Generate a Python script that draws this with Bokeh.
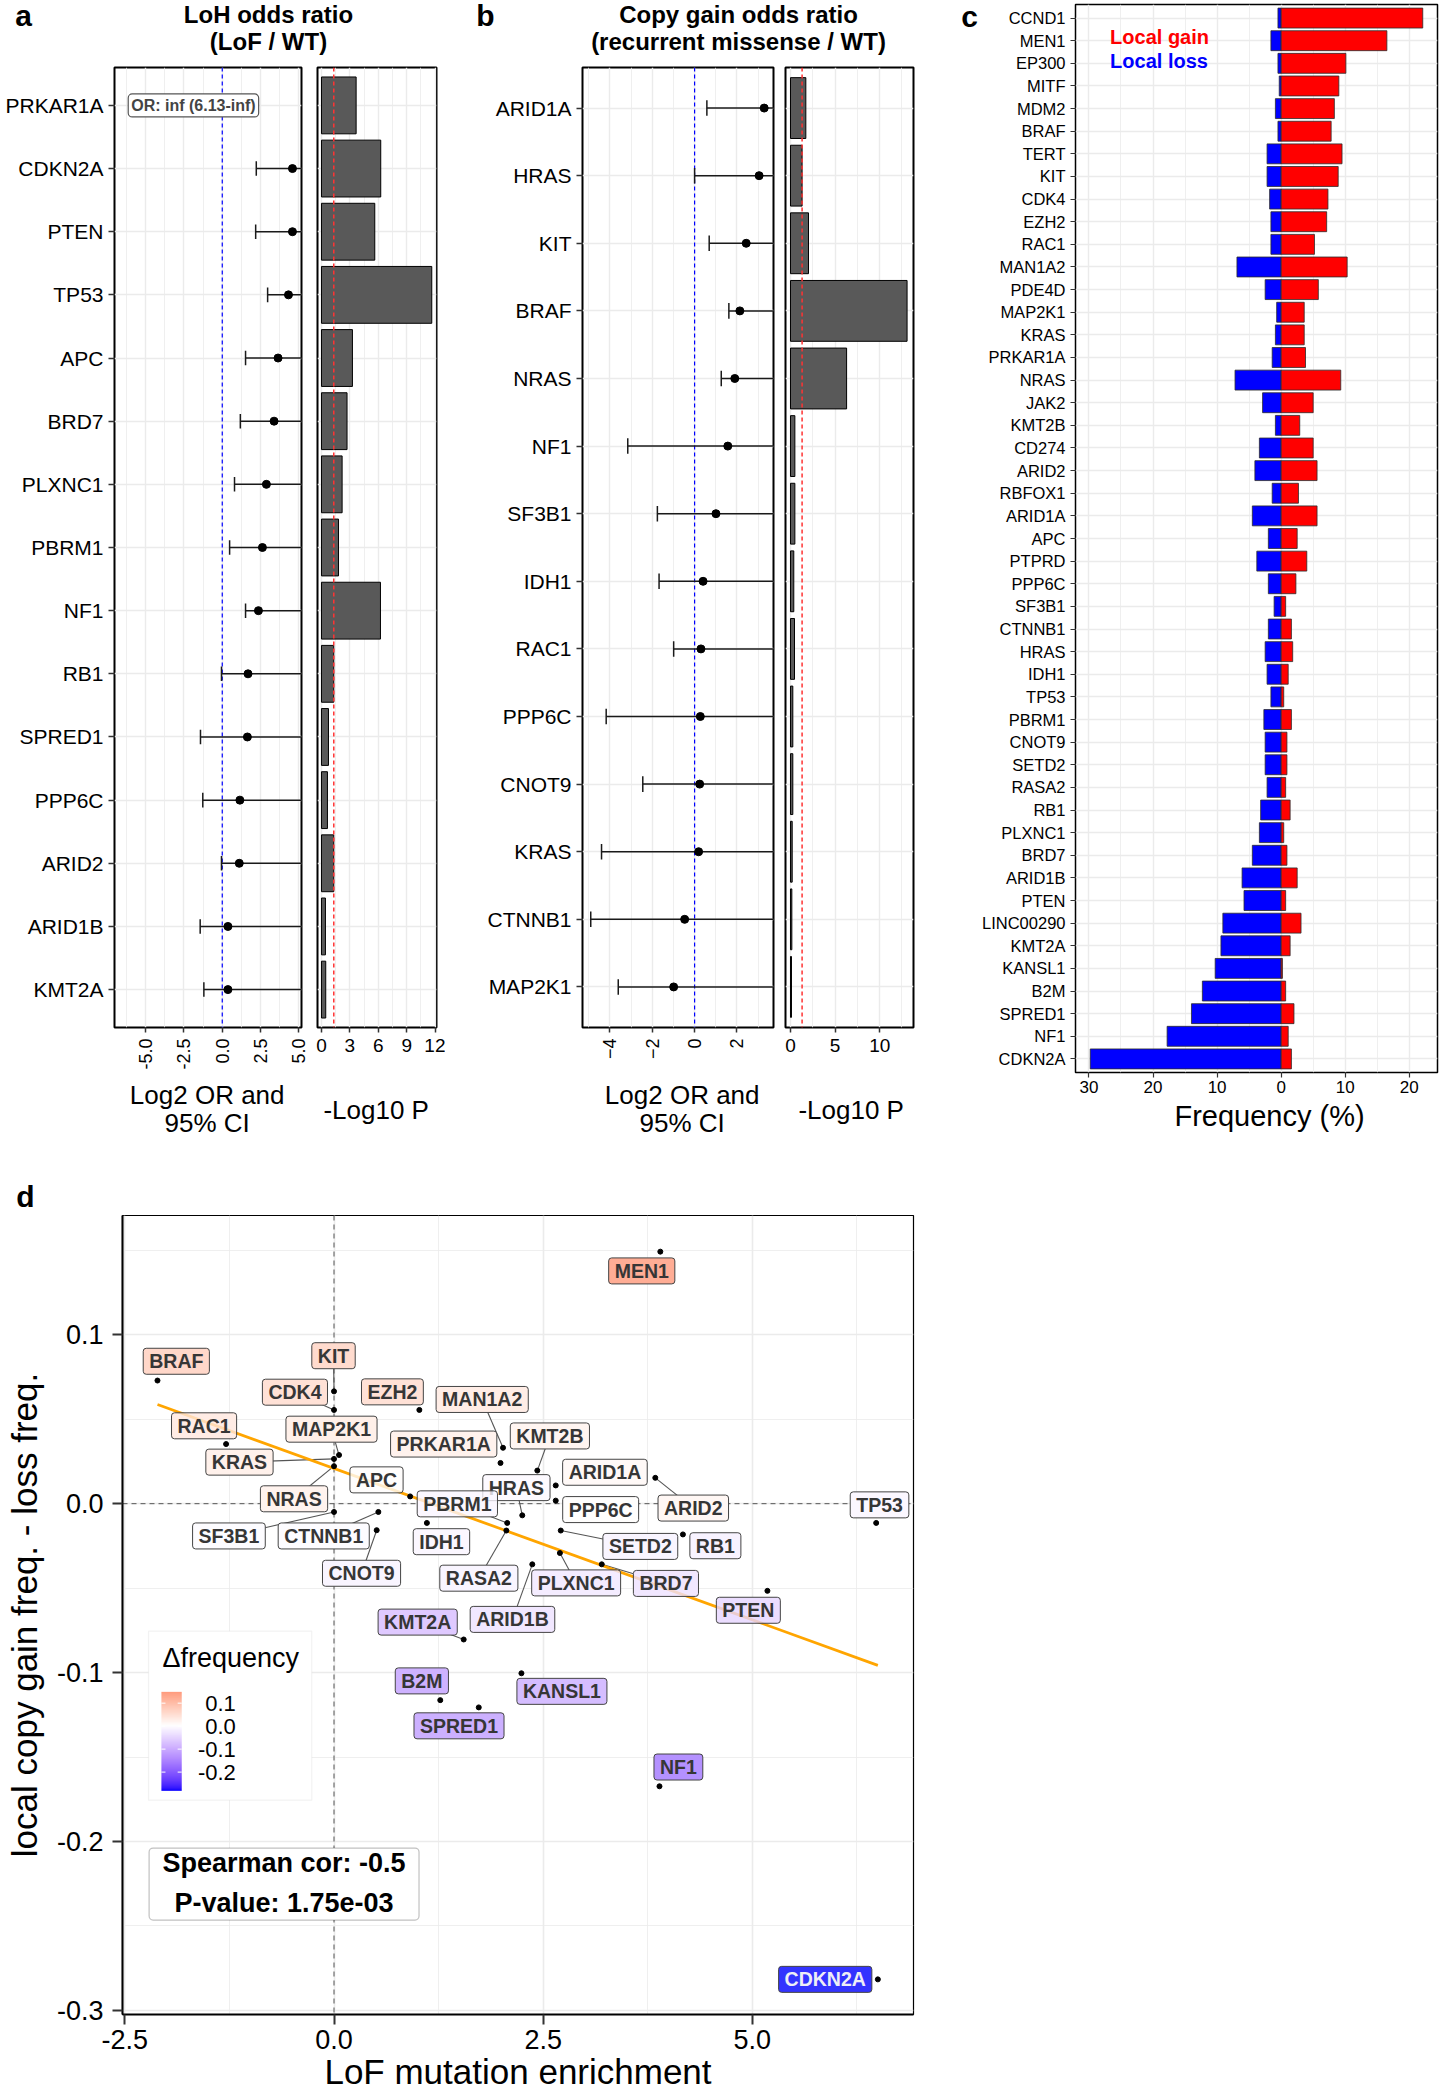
import math
import numpy as np
from bokeh.plotting import figure
from bokeh.layouts import row, column
from bokeh.models import (Range1d, FixedTicker, PrintfTickFormatter, Span, Label,
                          ColumnDataSource, BoxAnnotation, LinearColorMapper)
from bokeh.embed import file_html
from bokeh.resources import INLINE
from bokeh.core.properties import value

FONT = "Liberation Sans"

# ======================= DATA =======================
# (a) LoH odds ratio (LoF / WT)
a_genes = ["PRKAR1A", "CDKN2A", "PTEN", "TP53", "APC", "BRD7", "PLXNC1", "PBRM1",
           "NF1", "RB1", "SPRED1", "PPP6C", "ARID2", "ARID1B", "KMT2A"]
a_log2_or = [None, 4.58, 4.58, 4.32, 3.64, 3.38, 2.88, 2.62, 2.36, 1.68, 1.64, 1.15, 1.11, 0.37, 0.37]
a_ci_low = [None, 2.22, 2.18, 2.96, 1.52, 1.18, 0.80, 0.48, 1.52, -0.05, -1.42, -1.27, -0.05, -1.44, -1.20]
a_ci_high = [None, 7.5, 7.5, 7.0, 6.5, 6.5, 6.5, 6.5, 6.0, 6.0, 6.5, 6.5, 6.0, 6.5, 6.5]
a_neg_log10_p = [3.66, 6.26, 5.63, 11.65, 3.27, 2.70, 2.18, 1.80, 6.23, 1.30, 0.74, 0.63, 1.30, 0.42, 0.45]
a_inf_note = "OR: inf (6.13-inf)"

# (b) Copy gain odds ratio (recurrent missense / WT)
b_genes = ["ARID1A", "HRAS", "KIT", "BRAF", "NRAS", "NF1", "SF3B1", "IDH1", "RAC1",
           "PPP6C", "CNOT9", "KRAS", "CTNNB1", "MAP2K1"]
b_log2_or = [3.29, 3.05, 2.44, 2.14, 1.90, 1.57, 1.01, 0.40, 0.30, 0.27, 0.24, 0.19, -0.47, -0.99]
b_ci_low = [0.58, 0.00, 0.69, 1.62, 1.26, -3.16, -1.76, -1.68, -0.99, -4.18, -2.45, -4.40, -4.91, -3.61]
b_ci_high = [5.0, 5.0, 5.0, 5.0, 5.0, 5.0, 5.0, 5.0, 5.0, 5.0, 5.0, 5.0, 5.0, 5.0]
b_neg_log10_p = [1.72, 1.30, 2.02, 13.07, 6.29, 0.49, 0.49, 0.37, 0.45, 0.26, 0.26, 0.19, 0.15, 0.11]

# (c) local gain / loss frequency (%)
c_genes = ["CCND1", "MEN1", "EP300", "MITF", "MDM2", "BRAF", "TERT", "KIT", "CDK4", "EZH2",
           "RAC1", "MAN1A2", "PDE4D", "MAP2K1", "KRAS", "PRKAR1A", "NRAS", "JAK2", "KMT2B",
           "CD274", "ARID2", "RBFOX1", "ARID1A", "APC", "PTPRD", "PPP6C", "SF3B1", "CTNNB1",
           "HRAS", "IDH1", "TP53", "PBRM1", "CNOT9", "SETD2", "RASA2", "RB1", "PLXNC1", "BRD7",
           "ARID1B", "PTEN", "LINC00290", "KMT2A", "KANSL1", "B2M", "SPRED1", "NF1", "CDKN2A"]
c_gain = [22.1, 16.5, 10.1, 9.0, 8.3, 7.8, 9.5, 8.9, 7.3, 7.1,
          5.2, 10.3, 5.8, 3.6, 3.6, 3.8, 9.3, 5.0, 2.9, 5.0,
          5.6, 2.7, 5.6, 2.5, 4.0, 2.3, 0.7, 1.6, 1.8, 1.1,
          0.4, 1.6, 0.9, 0.9, 0.7, 1.4, 0.4, 0.9, 2.5, 0.7,
          3.1, 1.4, 0.2, 0.7, 2.0, 1.1, 1.6]
c_loss = [0.5, 1.6, 0.5, 0.3, 0.9, 0.5, 2.2, 2.2, 1.8, 1.6,
          1.6, 6.9, 2.5, 0.7, 0.9, 1.4, 7.2, 2.9, 0.9, 3.4,
          4.1, 1.4, 4.5, 2.0, 3.8, 2.0, 1.1, 2.0, 2.5, 2.2,
          1.6, 2.7, 2.5, 2.5, 2.2, 3.2, 3.4, 4.5, 6.1, 5.8,
          9.1, 9.4, 10.3, 12.3, 14.0, 17.8, 29.8]

# (d) LoF mutation enrichment vs local copy gain freq. - loss freq.
d_genes = ["BRAF", "KIT", "CDK4", "EZH2", "MEN1", "MAN1A2", "PRKAR1A", "RAC1", "MAP2K1",
           "KRAS", "NRAS", "KMT2B", "ARID2", "ARID1A", "APC", "PPP6C", "SF3B1", "CTNNB1",
           "HRAS", "IDH1", "PBRM1", "TP53", "CNOT9", "RASA2", "SETD2", "RB1", "PLXNC1",
           "ARID1B", "BRD7", "PTEN", "KMT2A", "KANSL1", "B2M", "SPRED1", "NF1", "CDKN2A"]
d_lof_enrichment = [-2.11, 0.00, 0.00, 1.02, 3.90, 2.02, 1.99, -1.29, 0.06,
                    0.00, 0.00, 2.43, 3.84, 2.65, 0.91, 2.65, 0.00, 0.53,
                    2.25, 1.11, 2.07, 6.48, 0.51, 2.06, 2.71, 4.17, 2.70,
                    2.37, 3.20, 5.18, 1.55, 2.24, 1.27, 1.73, 3.89, 6.50]
d_delta_freq = [0.0729, 0.0665, 0.0555, 0.0555, 0.1492, 0.0331, 0.0241, 0.0353, 0.0288,
                0.0265, 0.0222, 0.0196, 0.0153, 0.0108, 0.0043, 0.0018, -0.0049, -0.0049,
                -0.0069, -0.0114, -0.0114, -0.0114, -0.0157, -0.0159, -0.0159, -0.0182, -0.0292,
                -0.0359, -0.0359, -0.0516, -0.0804, -0.1004, -0.1163, -0.1206, -0.1673, -0.2816]
d_stats = ["Spearman cor: -0.5", "P-value: 1.75e-03"]
d_legend_ticks = [0.1, 0.0, -0.1, -0.2]

# repelled label positions (layout, data units)
d_label_x = [-1.885, -0.006, -0.467, 0.698, 3.678, 1.771, 1.311, -1.553, -0.030,
             -1.130, -0.478, 2.580, 4.294, 3.238, 0.508, 3.187, -1.256, -0.123,
             2.180, 1.284, 1.474, 6.520, 0.329, 1.731, 3.661, 4.558, 2.894,
             2.133, 3.967, 4.952, 1.000, 2.724, 1.050, 1.494, 4.116, 5.871]
d_label_y = [0.0843, 0.0876, 0.0660, 0.0662, 0.1378, 0.0617, 0.0353, 0.0461, 0.0441,
             0.0246, 0.0029, 0.0401, -0.0026, 0.0186, 0.0141, -0.0035, -0.0191, -0.0191,
             0.0095, -0.0225, -0.0001, -0.0007, -0.0412, -0.0441, -0.0253, -0.0249, -0.0469,
             -0.0685, -0.0472, -0.0631, -0.0701, -0.1111, -0.1049, -0.1315, -0.1559, -0.2816]
d_with_segment = {"KIT", "CDK4", "MAP2K1", "KRAS", "NRAS", "SF3B1", "CTNNB1", "CNOT9",
                  "MAN1A2", "KMT2B", "HRAS", "PBRM1", "ARID2", "SETD2", "RASA2", "PLXNC1",
                  "BRD7", "ARID1B", "KMT2A"}


# ======================= HELPERS =======================
def geom(w, h, left, right, top, bottom, xr, yr):
    return dict(w=w, h=h, left=left, right=right, top=top, bottom=bottom,
                fw=w - left - right, fh=h - top - bottom, xr=xr, yr=yr)


def new_fig(g, **kw):
    p = figure(width=g["w"], height=g["h"], x_range=Range1d(*g["xr"]), y_range=Range1d(*g["yr"]),
               min_border_left=g["left"], min_border_right=g["right"],
               min_border_top=g["top"], min_border_bottom=g["bottom"],
               toolbar_location=None, output_backend="svg", frame_align=False, **kw)
    p.background_fill_color = "white"
    p.border_fill_color = "white"
    p.outline_line_color = "black"
    return p


def text_fig(w, h):
    p = figure(width=w, height=h, x_range=Range1d(0, w), y_range=Range1d(h, 0),
               min_border=0, x_axis_location=None, y_axis_location=None,
               toolbar_location=None, output_backend="svg", frame_align=False)
    p.outline_line_color = None
    p.grid.visible = False
    p.background_fill_color = "white"
    p.border_fill_color = "white"
    return p


def label(p, x, y, text, size, bold=False, align="center", baseline="middle",
          color="black", angle=0.0, **kw):
    p.add_layout(Label(x=x, y=y, text=text, text_font=FONT, text_font_size=f"{size}px",
                       text_font_style="bold" if bold else "normal", text_align=align,
                       text_baseline=baseline, text_color=color, angle=angle, **kw))


def style_axis(ax, size, tick_out, standoff, width=1.5):
    ax.major_label_text_font = FONT
    ax.major_label_text_font_size = f"{size}px"
    ax.major_label_text_color = "black"
    ax.major_tick_line_color = "#333333"
    ax.major_tick_line_width = width
    ax.major_tick_out = tick_out
    ax.major_tick_in = 0
    ax.minor_tick_line_color = None
    ax.axis_line_color = None
    ax.major_label_standoff = standoff


def style_grid(p):
    p.grid.grid_line_color = "#EBEBEB"
    p.grid.grid_line_width = 1.4
    p.xgrid.minor_grid_line_color = "#EBEBEB"
    p.xgrid.minor_grid_line_width = 0.8


# ---- Lab colour interpolation (like ggplot2 scale_fill_gradient2) ----
def _lin(c):
    c = c / 255.0
    return c / 12.92 if c <= 0.04045 else ((c + 0.055) / 1.055) ** 2.4


def _delin(c):
    c = min(max(c, 0.0), 1.0)
    c = 12.92 * c if c <= 0.0031308 else 1.055 * c ** (1 / 2.4) - 0.055
    return int(round(min(max(c, 0.0), 1.0) * 255))


def hex2lab(h):
    r, g, b = (_lin(int(h[i:i + 2], 16)) for i in (1, 3, 5))
    X = 0.4124 * r + 0.3576 * g + 0.1805 * b
    Y = 0.2126 * r + 0.7152 * g + 0.0722 * b
    Z = 0.0193 * r + 0.1192 * g + 0.9505 * b
    f = lambda t: t ** (1 / 3) if t > 0.008856 else 7.787 * t + 16 / 116
    fx, fy, fz = f(X / 0.95047), f(Y / 1.0), f(Z / 1.08883)
    return (116 * fy - 16, 500 * (fx - fy), 200 * (fy - fz))


def lab2hex(L, a, b):
    fy = (L + 16) / 116
    fx = fy + a / 500
    fz = fy - b / 200
    finv = lambda t: t ** 3 if t ** 3 > 0.008856 else (t - 16 / 116) / 7.787
    X, Y, Z = 0.95047 * finv(fx), finv(fy), 1.08883 * finv(fz)
    r = 3.2406 * X - 1.5372 * Y - 0.4986 * Z
    g = -0.9689 * X + 1.8758 * Y + 0.0415 * Z
    bb = 0.0557 * X - 0.2040 * Y + 1.0570 * Z
    return "#%02x%02x%02x" % (_delin(r), _delin(g), _delin(bb))


LOW, MID, HIGH = hex2lab("#0000FF"), hex2lab("#FFFFFF"), hex2lab("#FF0000")


def grad2(v, lim):
    t = 0.5 + v / (2 * lim)
    if t <= 0.5:
        c0, c1, f = LOW, MID, t / 0.5
    else:
        c0, c1, f = MID, HIGH, (t - 0.5) / 0.5
    f = min(max(f, 0.0), 1.0)
    return lab2hex(*[c0[k] + f * (c1[k] - c0[k]) for k in range(3)])


# ======================= GEOMETRY (page px) =======================
GA1 = geom(308, 1009, 114, 7, 1, 48, (-7.03, 5.17), (-0.6, 14.6))
GA2 = geom(137, 1009, 9, 9, 1, 48, (-0.42, 12.15), (-0.6, 14.6))
GB1 = geom(333, 1009, 137, 5, 1, 48, (-5.30, 3.73), (-0.6, 13.6))
GB2 = geom(147, 1009, 7, 12, 1, 48, (-0.56, 13.79), (-0.6, 13.6))
GC = geom(461, 1100, 97, 2, 4, 28, (-32.1, 24.4), (-0.6, 46.6))
GD = geom(930, 885, 122, 17, 1, 85, (-2.528, 6.926), (-0.3024, 0.1706))

# ======================= HEADER (a, b titles) =======================
hdr = text_fig(925, 66)
label(hdr, 23, 15, "a", 30, bold=True)
label(hdr, 485, 15, "b", 30, bold=True)
label(hdr, 268, 14, "LoH odds ratio", 24, bold=True)
label(hdr, 268, 41, "(LoF / WT)", 24, bold=True)
label(hdr, 738, 14, "Copy gain odds ratio", 24, bold=True)
label(hdr, 738, 41, "(recurrent missense / WT)", 24, bold=True)

# footer with x-axis titles of a and b
ftr = text_fig(925, 85)
label(ftr, 206.7, 19.6, "Log2 OR and", 26)
label(ftr, 206.7, 47, "95% CI", 26)
label(ftr, 375.7, 34, "-Log10 P", 26)
label(ftr, 681.7, 19.6, "Log2 OR and", 26)
label(ftr, 681.7, 47, "95% CI", 26)
label(ftr, 850.7, 34, "-Log10 P", 26)


# ======================= FOREST & BAR PANELS =======================
def make_forest(g, genes, lor, lo, hi, ticks, minor, fmt):
    n = len(genes)
    ypos = [n - 1 - i for i in range(n)]
    p = new_fig(g)
    p.outline_line_width = 2
    p.xaxis.ticker = FixedTicker(ticks=ticks, minor_ticks=minor)
    if fmt:
        p.xaxis.formatter = PrintfTickFormatter(format=fmt)
    p.yaxis.ticker = FixedTicker(ticks=ypos)
    p.yaxis.major_label_overrides = {y: s for y, s in zip(ypos, genes)}
    style_axis(p.yaxis[0], 21, 6, 5)
    style_axis(p.xaxis[0], 18, 5, 6)
    p.xaxis.major_label_orientation = math.pi / 2
    style_grid(p)
    p.add_layout(Span(location=0, dimension="height", line_color="blue",
                      line_dash="4 3", line_width=1.2, level="underlay"))
    keep = [i for i in range(n) if lor[i] is not None]
    ys = [ypos[i] for i in keep]
    los = [lo[i] for i in keep]
    p.segment(x0=los, y0=ys, x1=[hi[i] for i in keep], y1=ys,
              line_color="#1a1a1a", line_width=1.5)
    p.segment(x0=los, y0=[y - 0.115 for y in ys], x1=los, y1=[y + 0.115 for y in ys],
              line_color="#1a1a1a", line_width=1.5)
    p.scatter(x=[lor[i] for i in keep], y=ys, size=8, color="black")
    return p, ypos


def make_bars(g, vals, ticks, minor):
    n = len(vals)
    ypos = [n - 1 - i for i in range(n)]
    p = new_fig(g, y_axis_location=None)
    p.outline_line_width = 2
    p.xaxis.ticker = FixedTicker(ticks=ticks, minor_ticks=minor)
    style_axis(p.xaxis[0], 19, 5, 6)
    p.ygrid.ticker = FixedTicker(ticks=ypos)
    style_grid(p)
    p.hbar(y=ypos, left=0, right=vals, height=0.9, fill_color="#595959",
           line_color="black", line_width=1)
    p.add_layout(Span(location=1.3, dimension="height", line_color="#FF3333",
                      line_dash="4 3", line_width=1.5))
    return p


pa1, ya = make_forest(GA1, a_genes, a_log2_or, a_ci_low, a_ci_high,
                      [-5, -2.5, 0, 2.5, 5], [-6.25, -3.75, -1.25, 1.25, 3.75], "%.1f")
pa1.add_layout(Label(x=-1.88, y=ya[0], text=a_inf_note, text_font=FONT, text_font_size="16px",
                     text_font_style="bold", text_align="center", text_baseline="middle",
                     background_fill_color="white", border_line_color="#555555",
                     border_line_width=1.2, border_radius=4, padding=3))
pa2 = make_bars(GA2, a_neg_log10_p, [0, 3, 6, 9, 12], [1.5, 4.5, 7.5, 10.5])
pb1, yb = make_forest(GB1, b_genes, b_log2_or, b_ci_low, b_ci_high,
                      [-4, -2, 0, 2], [-5, -3, -1, 1, 3], None)
pb2 = make_bars(GB2, b_neg_log10_p, [0, 5, 10], [2.5, 7.5, 12.5])


# ======================= PANEL C =======================
pc = new_fig(GC)
pc.outline_line_width = 1.5
nc = len(c_genes)
yc = [nc - 1 - i for i in range(nc)]
pc.xaxis.ticker = FixedTicker(ticks=[-30, -20, -10, 0, 10, 20], minor_ticks=[-25, -15, -5, 5, 15])
pc.xaxis.major_label_overrides = {-30: "30", -20: "20", -10: "10", 0: "0", 10: "10", 20: "20"}
pc.yaxis.ticker = FixedTicker(ticks=yc)
pc.yaxis.major_label_overrides = {y: s for y, s in zip(yc, c_genes)}
style_axis(pc.yaxis[0], 16.5, 5, 5, width=1.2)
style_axis(pc.xaxis[0], 17, 5, 3, width=1.2)
style_grid(pc)
pc.hbar(y=yc, left=[-v for v in c_loss], right=0, height=0.88, fill_color="#0000FF",
        line_color="#2b2b2b", line_width=0.8)
pc.hbar(y=yc, left=0, right=c_gain, height=0.88, fill_color="#FF0000",
        line_color="#2b2b2b", line_width=0.8)
label(pc, -26.7, nc - 1 - 0.84, "Local gain", 20, bold=True, align="left", color="#FF0000")
label(pc, -26.7, nc - 1 - 1.90, "Local loss", 20, bold=True, align="left", color="#0000FF")

cletter = text_fig(53, 1160)
label(cletter, 44, 16, "c", 30, bold=True)
cftr = text_fig(461, 60)
label(cftr, 291, 15, "Frequency (%)", 29)


# ======================= PANEL D =======================
pdd = new_fig(GD)
pdd.outline_line_width = 1.2
pdd.xaxis.ticker = FixedTicker(ticks=[-2.5, 0, 2.5, 5.0], minor_ticks=[-1.25, 1.25, 3.75, 6.25])
pdd.yaxis.ticker = FixedTicker(ticks=[-0.3, -0.2, -0.1, 0.0, 0.1],
                               minor_ticks=[-0.25, -0.15, -0.05, 0.05, 0.15])
pdd.xaxis.formatter = PrintfTickFormatter(format="%.1f")
pdd.yaxis.formatter = PrintfTickFormatter(format="%.1f")
style_axis(pdd.xaxis[0], 27, 10, 5, width=2)
style_axis(pdd.yaxis[0], 27, 10, 9, width=2)
for ax in (pdd.xaxis[0], pdd.yaxis[0]):
    ax.axis_line_color = "black"
    ax.axis_line_width = 2
    ax.axis_label_text_font = FONT
    ax.axis_label_text_font_size = "35px"
    ax.axis_label_text_font_style = "normal"
    ax.axis_label_text_color = "black"
pdd.xaxis.axis_label = "LoF mutation enrichment"
pdd.yaxis.axis_label = "local copy gain freq. - loss freq."
pdd.xaxis.axis_label_standoff = 0
pdd.yaxis.axis_label_standoff = 10
style_grid(pdd)
pdd.ygrid.minor_grid_line_color = "#EBEBEB"
pdd.ygrid.minor_grid_line_width = 0.8
pdd.grid.grid_line_width = 1.6

pdd.add_layout(Span(location=0, dimension="height", line_color="#555555",
                    line_dash="5 4", line_width=1, level="underlay"))
pdd.add_layout(Span(location=0, dimension="width", line_color="#555555",
                    line_dash="5 4", line_width=1, level="underlay"))

lim = max(abs(min(d_delta_freq)), abs(max(d_delta_freq)))
fills = [grad2(v, lim) for v in d_delta_freq]
tcols = ["#EEEEF6" if v < -0.2 else "#363636" for v in d_delta_freq]

# connector segments
sx0, sy0, sx1, sy1 = [], [], [], []
for gname, px, py, lx, ly in zip(d_genes, d_lof_enrichment, d_delta_freq, d_label_x, d_label_y):
    if gname in d_with_segment:
        sx0.append(lx); sy0.append(ly); sx1.append(px); sy1.append(py)
pdd.segment(x0=sx0, y0=sy0, x1=sx1, y1=sy1, line_color="#555555", line_width=1.1)

lab_src = ColumnDataSource(dict(x=d_label_x, y=d_label_y, text=d_genes, fill=fills, tcol=tcols))
LBL = dict(text_font=value(FONT), text_font_size="19.5px", text_font_style="bold",
           text_align="center", text_baseline="middle", padding=(6, 2), border_radius=3)
# opaque white underlay hides connector ends inside the boxes
pdd.text(x="x", y="y", text="text", source=lab_src, text_alpha=0,
         background_fill_color="white", background_fill_alpha=1.0,
         border_line_color=None, **LBL)

# regression line (least squares fit)
coef = np.polyfit(d_lof_enrichment, d_delta_freq, 1)
xs = [min(d_lof_enrichment), max(d_lof_enrichment)]
pdd.line(x=xs, y=list(np.polyval(coef, xs)), line_color="#FFA500", line_width=2.8)

pdd.text(x="x", y="y", text="text", source=lab_src, text_color="tcol",
         background_fill_color="fill", background_fill_alpha=0.8,
         border_line_color="#444444", border_line_width=1, **LBL)

pdd.scatter(x=d_lof_enrichment, y=d_delta_freq, size=5, color="black")

# colour legend (box, title, gradient bar, labels)
lo_v, hi_v = min(d_delta_freq), max(d_delta_freq)
pdd.add_layout(BoxAnnotation(left=-2.217, right=-0.266, top=-0.0755, bottom=-0.1755,
                             fill_color="white", fill_alpha=1.0, line_color="#D4D4D4",
                             line_width=1.2, level="glyph"))
mapper = LinearColorMapper(palette=[grad2(v, lim) for v in np.linspace(lo_v, hi_v, 256)],
                           low=lo_v, high=hi_v)
BAR_X, BAR_W, BAR_Y0, BAR_H = -2.063, 0.243, -0.170, 0.0586
pdd.image(image=[np.linspace(lo_v, hi_v, 256).reshape(256, 1)], x=BAR_X, y=BAR_Y0,
          dw=BAR_W, dh=BAR_H, color_mapper=mapper, level="overlay")
tick_y = [BAR_Y0 + (v - lo_v) / (hi_v - lo_v) * BAR_H for v in d_legend_ticks]
pdd.segment(x0=[BAR_X] * 4, y0=tick_y, x1=[BAR_X + BAR_W * 0.2] * 4, y1=tick_y,
            line_color="white", line_width=1, level="overlay")
pdd.segment(x0=[BAR_X + BAR_W * 0.8] * 4, y0=tick_y, x1=[BAR_X + BAR_W] * 4, y1=tick_y,
            line_color="white", line_width=1, level="overlay")
label(pdd, -2.051, -0.0912, "\u0394frequency", 27, align="left")
for v, ty in zip(d_legend_ticks, tick_y):
    label(pdd, -1.174, ty, "%.1f" % v, 22, align="right")

# statistics box
pdd.add_layout(BoxAnnotation(left=-2.21, right=1.016, top=-0.2039, bottom=-0.2465,
                             fill_color="white", fill_alpha=1.0, line_color="#333333",
                             line_width=1.2, border_radius=4))
label(pdd, -0.597, -0.2128, d_stats[0], 27, bold=True)
label(pdd, -0.597, -0.2365, d_stats[1], 27, bold=True)

dhdr = text_fig(930, 54)
label(dhdr, 25, 36, "d", 30, bold=True)


# ======================= LAYOUT =======================
top_left = column(hdr, row(pa1, pa2, pb1, pb2), ftr)
cbox = column(pc, cftr)
top = row(top_left, cletter, cbox)
bottom = column(dhdr, pdd)
layout = column(top, bottom)

open("out.html", "w").write(file_html(layout, INLINE))
